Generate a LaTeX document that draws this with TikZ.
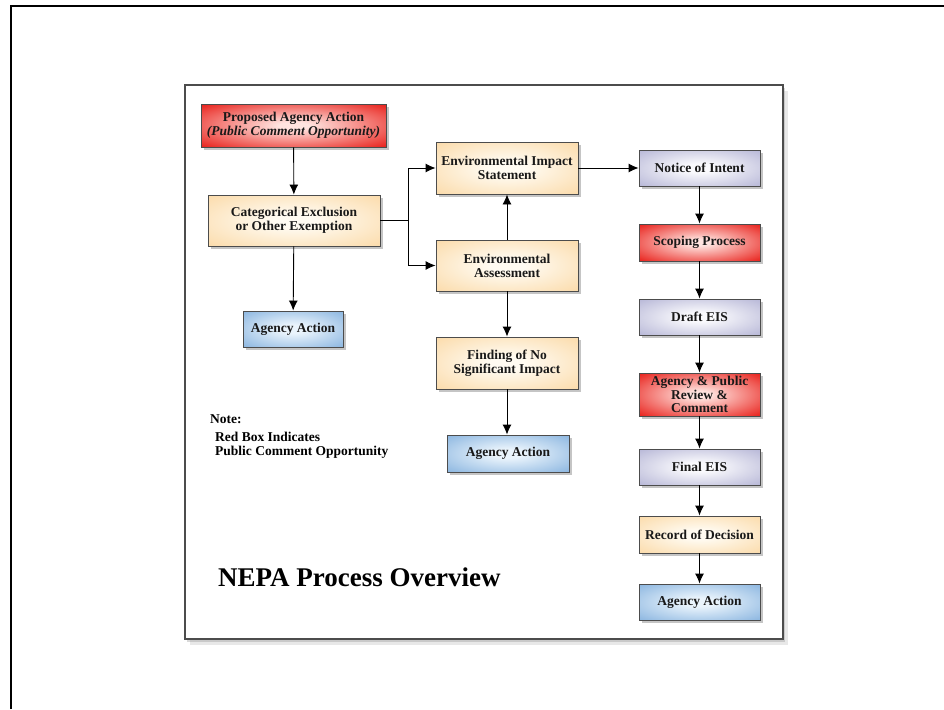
\documentclass[tikz,border=0pt]{standalone}
\usepackage{fontspec}
\setmainfont{Liberation Serif}
\usetikzlibrary{arrows.meta,shadows}

\definecolor{redout}{RGB}{232,28,22}
\definecolor{redin}{RGB}{255,228,224}
\definecolor{peachout}{RGB}{250,210,150}
\definecolor{peachin}{RGB}{255,251,242}
\definecolor{blueout}{RGB}{112,164,216}
\definecolor{bluein}{RGB}{234,244,252}
\definecolor{lavout}{RGB}{164,164,204}
\definecolor{lavin}{RGB}{250,250,253}

\pgfdeclareradialshading{glowred}{\pgfpointorigin}{color(0bp)=(redin);color(4bp)=(redin);color(36bp)=(redout);color(50bp)=(redout)}
\pgfdeclareradialshading{glowpeach}{\pgfpointorigin}{color(0bp)=(peachin);color(6bp)=(peachin);color(44bp)=(peachout);color(50bp)=(peachout)}
\pgfdeclareradialshading{glowblue}{\pgfpointorigin}{color(0bp)=(bluein);color(6bp)=(bluein);color(44bp)=(blueout);color(50bp)=(blueout)}
\pgfdeclareradialshading{glowlav}{\pgfpointorigin}{color(0bp)=(lavin);color(6bp)=(lavin);color(44bp)=(lavout);color(50bp)=(lavout)}

\begin{document}
\begin{tikzpicture}
[
    x=1pt, y=-1pt,
    box/.style={draw=black!70, line width=0.9pt, align=center, inner sep=1pt,
        font=\fontsize{13.5}{14}\selectfont\bfseries, text=black!90,
        drop shadow={opacity=0.45, shadow xshift=2.5pt, shadow yshift=-2.5pt}},
    redbox/.style={box, shading=glowred},
    peachbox/.style={box, shading=glowpeach},
    bluebox/.style={box, shading=glowblue},
    lavbox/.style={box, shading=glowlav},
    flow/.style={-{Latex[length=10pt,width=9pt]}, line width=0.9pt},
]
\useasboundingbox (0,0) rectangle (944,709);
\draw[line width=1.6pt] (11,709) -- (11,6) -- (944,6);
\draw[draw=black!70, line width=1.3pt, fill=white,
    drop shadow={opacity=0.18, shadow xshift=5pt, shadow yshift=-6pt},
    drop shadow={opacity=0.3, shadow xshift=2pt, shadow yshift=-3pt}]
    (185,85) rectangle (783,639);

\node [redbox, minimum width=185pt, minimum height=43pt] (propose) at (293.5,125.5)
    {Proposed Agency Action\\\itshape(Public Comment Opportunity)};
\node [peachbox, minimum width=172pt, minimum height=51pt] (catex) at (294,220.5)
    {Categorical Exclusion\\or Other Exemption};
\node [bluebox, minimum width=100pt, minimum height=36pt] (actleft) at (293,329)
    {Agency Action};

\node [peachbox, minimum width=142pt, minimum height=52pt] (eis) at (507,168)
    {Environmental Impact\\Statement};
\node [peachbox, minimum width=142pt, minimum height=51pt] (ea) at (507,265.5)
    {Environmental\\Assessment};
\node [peachbox, minimum width=142pt, minimum height=52pt] (fonsi) at (507,363)
    {Finding of No\\Significant Impact};
\node [bluebox, minimum width=122pt, minimum height=37pt] (actmid) at (508,453.5)
    {Agency Action};

\node [lavbox, minimum width=121pt, minimum height=36pt] (noi) at (699.5,168)
    {Notice of Intent};
\node [redbox, minimum width=121pt, minimum height=37pt] (scoping) at (699.5,242.5)
    {Scoping Process};
\node [lavbox, minimum width=121pt, minimum height=36pt] (draft) at (699.5,317)
    {Draft EIS};
\node [redbox, minimum width=121pt, minimum height=43pt, inner sep=0pt,
    font=\fontsize{13.5}{13.3}\selectfont\bfseries] (review) at (699.5,394.5)
    {Agency \& Public\\Review \&\\Comment};
\node [lavbox, minimum width=121pt, minimum height=36pt] (final) at (699.5,467)
    {Final EIS};
\node [peachbox, minimum width=121pt, minimum height=37pt] (rod) at (699.5,534.5)
    {Record of Decision};
\node [bluebox, minimum width=121pt, minimum height=36pt] (actright) at (699.5,602)
    {Agency Action};

\node [anchor=west, inner sep=0pt, font=\fontsize{13.5}{14}\selectfont\bfseries] (note) at (210,419) {Note:};
\node [anchor=west, inner sep=0pt, align=left, font=\fontsize{13.5}{14}\selectfont\bfseries] (legend) at (215,445)
    {Red Box Indicates\\Public Comment Opportunity};
\node [anchor=west, inner sep=0pt, font=\fontsize{27}{32}\selectfont\bfseries] (title) at (218,577)
    {NEPA Process Overview};

\coordinate (fork) at (408,220.5);
\draw [flow] (propose) -- (catex);
\draw [flow] (catex) -- (actleft);
\draw [line width=0.9pt] (catex.east) -- (fork);
\draw [flow] (fork) |- (eis.west);
\draw [flow] (fork) |- (ea.west);
\draw [flow] (ea) -- (eis);
\draw [flow] (ea) -- (fonsi);
\draw [flow] (fonsi) -- (fonsi |- actmid.north);
\draw [flow] (eis) -- (noi);
\draw [flow] (noi) -- (scoping);
\draw [flow] (scoping) -- (draft);
\draw [flow] (draft) -- (review);
\draw [flow] (review) -- (final);
\draw [flow] (final) -- (rod);
\draw [flow] (rod) -- (actright);
\end{tikzpicture}
\end{document}
